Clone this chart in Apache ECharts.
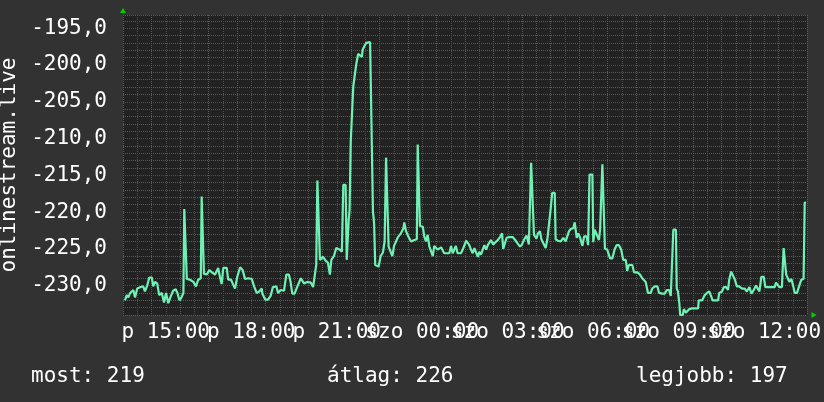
<!DOCTYPE html>
<html><head><meta charset="utf-8">
<script src="https://cdn.jsdelivr.net/npm/echarts@6/dist/echarts.min.js"></script>
<style>html,body{margin:0;padding:0;background:#323232;}#c{width:824px;height:402px;}</style>
</head><body><div id="c"></div>
<script>
// hours since Friday 00:00
const times = [
13.57,13.63,13.69,13.75,13.86,13.92,14.00,14.12,14.21,14.27,14.35,14.42,14.51,14.56,14.62,14.70,14.77,14.86,14.94,15.01,
15.09,15.17,15.26,15.35,15.41,15.48,15.54,15.62,15.65,15.71,15.74,15.85,15.97,16.06,16.14,16.23,16.26,16.32,16.34,16.44,
16.53,16.62,16.73,16.84,16.90,16.96,17.02,17.14,17.19,17.29,17.37,17.43,17.51,17.61,17.70,17.78,17.90,18.02,18.10,18.19,
18.28,18.37,18.39,18.49,18.59,18.68,18.76,18.88,18.94,19.03,19.15,19.23,19.32,19.38,19.44,19.52,19.62,19.74,19.85,19.97,
20.09,20.17,20.23,20.28,20.32,20.39,20.41,20.52,20.61,20.69,20.76,20.81,20.90,20.98,21.10,21.18,21.23,21.31,21.35,21.39,
21.42,21.45,21.49,21.56,21.58,21.64,21.68,21.72,21.75,21.82,21.88,21.91,21.97,22.03,22.09,22.17,22.24,22.27,22.31,22.35,
22.42,22.47,22.54,22.62,22.68,22.73,22.80,22.82,22.89,22.95,23.01,23.07,23.15,23.25,23.34,23.37,23.43,23.52,23.61,23.72,
23.81,23.84,23.90,23.92,24.02,24.07,24.13,24.19,24.25,24.31,24.37,24.42,24.48,24.54,24.60,24.66,24.72,24.77,24.95,25.01,
25.07,25.12,25.18,25.24,25.36,25.42,25.48,25.54,25.59,25.65,25.71,25.77,25.83,25.89,25.95,26.00,26.06,26.12,26.18,26.24,
26.30,26.35,26.41,26.49,26.56,26.65,26.73,26.80,26.84,26.91,26.96,27.05,27.17,27.26,27.35,27.43,27.50,27.58,27.66,27.74,
27.78,27.82,27.88,27.92,28.01,28.06,28.13,28.18,28.25,28.33,28.39,28.45,28.51,28.56,28.65,28.68,28.76,28.86,28.95,29.03,
29.09,29.15,29.21,29.30,29.35,29.42,29.47,29.54,29.62,29.68,29.77,29.82,29.87,29.97,30.00,30.05,30.12,30.20,30.24,30.28,
30.32,30.38,30.41,30.49,30.59,30.67,30.75,30.82,30.90,30.98,31.05,31.14,31.19,31.25,31.37,31.43,31.55,31.64,31.72,31.84,
31.92,32.02,32.07,32.16,32.25,32.31,32.42,32.51,32.58,32.66,32.72,32.77,32.81,32.90,32.93,32.97,33.02,33.05,33.14,33.18,
33.25,33.32,33.37,33.47,33.68,33.70,33.82,33.91,33.99,34.07,34.14,34.19,34.38,34.42,34.52,34.58,34.66,34.73,34.77,34.84,
34.90,34.96,35.04,35.12,35.22,35.31,35.39,35.48,35.55,35.63,35.71,35.78,35.83,35.90,35.98,36.04,36.37,36.41,36.48,36.53,
36.62,36.68,36.74,36.77,36.83,36.88,36.95,37.00,37.07,37.15,37.23,37.30,37.38,37.42,37.47
];
const values = [
-232.0,-231.3,-231.6,-231.0,-230.6,-231.6,-230.4,-230.2,-230.1,-230.8,-230.0,-228.9,-228.9,-230.1,-229.5,-229.7,-231.3,-231.0,-232.3,-231.0,
-232.4,-231.5,-230.7,-230.5,-231.0,-232.0,-231.7,-231.0,-219.6,-219.6,-229.1,-229.2,-229.5,-230.1,-229.2,-229.0,-217.9,-217.9,-228.4,-228.5,
-227.9,-228.2,-228.5,-227.6,-228.8,-229.8,-227.6,-227.6,-229.2,-229.2,-229.9,-230.4,-228.8,-227.5,-227.9,-229.1,-229.0,-229.1,-230.1,-231.0,
-230.8,-230.4,-231.1,-231.9,-231.9,-231.4,-230.2,-230.1,-231.0,-230.6,-230.7,-228.5,-228.5,-229.5,-231.1,-231.1,-230.1,-229.0,-229.7,-229.5,
-229.6,-230.2,-230.2,-227.2,-215.7,-215.7,-226.5,-226.1,-226.6,-226.9,-228.5,-226.5,-226.0,-224.9,-225.1,-225.4,-216.3,-216.3,-226.5,-226.5,
-221.0,-219.7,-210.5,-210.5,-202.9,-202.9,-200.0,-200.0,-198.5,-198.5,-198.9,-197.9,-197.9,-197.0,-196.8,-196.9,-197.0,-219.9,-221.5,-227.2,
-227.4,-227.4,-226.0,-225.5,-224.0,-212.6,-212.6,-224.7,-224.7,-226.0,-224.6,-224.7,-223.4,-222.9,-222.2,-221.4,-222.6,-223.4,-224.0,-223.8,
-223.7,-210.8,-210.8,-221.9,-222.0,-223.3,-224.0,-223.1,-224.7,-224.9,-226.0,-224.6,-224.6,-225.1,-225.1,-224.8,-224.8,-225.6,-225.6,-224.6,
-225.6,-225.6,-224.6,-225.6,-225.6,-225.1,-225.1,-223.9,-223.7,-224.5,-225.1,-225.6,-224.9,-224.7,-226.1,-225.4,-225.8,-225.6,-224.5,-225.1,
-224.5,-224.5,-223.8,-224.4,-224.2,-223.8,-223.4,-222.9,-225.0,-225.0,-223.5,-223.4,-223.4,-223.8,-224.3,-224.7,-224.4,-223.7,-223.2,-224.4,
-224.4,-213.3,-213.3,-223.1,-223.6,-222.9,-222.6,-223.7,-223.7,-224.9,-223.7,-223.5,-219.4,-217.4,-217.4,-223.7,-223.9,-224.0,-223.5,-224.0,
-224.0,-222.6,-222.3,-222.2,-221.4,-223.5,-222.9,-223.5,-224.6,-223.3,-223.3,-224.5,-214.9,-214.9,-224.1,-222.4,-222.4,-223.8,-222.4,-222.4,
-213.5,-213.5,-225.0,-225.1,-226.3,-226.3,-225.1,-224.5,-224.5,-225.1,-226.5,-226.5,-228.0,-227.2,-227.2,-228.2,-228.2,-228.5,-229.0,-229.5,
-231.0,-231.0,-230.4,-230.1,-230.1,-231.0,-231.1,-231.1,-230.6,-230.6,-231.4,-231.6,-222.4,-222.4,-230.4,-230.8,-232.4,-234.0,-234.0,-233.2,
-233.7,-233.7,-233.2,-233.1,-233.1,-232.0,-232.0,-231.3,-231.0,-230.8,-230.8,-232.0,-232.0,-231.0,-230.8,-230.2,-230.2,-230.6,-229.2,-228.1,
-228.1,-229.1,-230.1,-230.1,-230.4,-230.4,-230.8,-230.2,-231.1,-230.6,-230.0,-230.0,-230.8,-228.8,-228.8,-230.2,-230.2,-229.6,-229.6,-230.2,
-230.2,-224.9,-224.9,-228.5,-228.5,-229.5,-229.1,-229.8,-231.0,-231.0,-230.0,-229.2,-229.1,-218.7,-218.7
];
const xTickHours = [15, 18, 21, 24, 27, 30, 33, 36];
const xTickLabels = ['p 15:00', 'p 18:00', 'p 21:00', 'szo 00:00', 'szo 03:00', 'szo 06:00', 'szo 09:00', 'szo 12:00'];
const yAxisTitle = 'onlinestream.live';
const footerTexts = ['most: 219', 'átlag: 226', 'legjobb: 197'];

const FONT = 'DejaVu Sans Mono';
const data = times.map((t, i) => [t, values[i]]);
const GRID_MINOR = '#5a5a5a';
const GRID_MAJOR = '#7e3a3a';

const chart = echarts.init(document.getElementById('c'), null, {renderer: 'canvas'});
chart.setOption({
  animation: false,
  backgroundColor: '#323232',
  title: [
    {text: footerTexts[0], left: 31, top: 366},
    {text: footerTexts[1], left: 327, top: 366},
    {text: footerTexts[2], left: 636, top: 366}
  ].map(t => Object.assign(t, {padding: 0, textStyle: {color: '#ffffff', fontFamily: FONT, fontSize: 21, fontWeight: 'normal'}})),
  grid: {left: 123, top: 15, width: 684, height: 300, show: true, backgroundColor: '#222222', borderWidth: 0,
    containLabel: false, outerBoundsMode: 'none'},
  xAxis: {
    type: 'value', min: 13.5, max: 37.5, interval: 0.5,
    axisLine: {show: true, onZero: false, symbol: ['none', 'triangle'], symbolSize: [6, 5], symbolOffset: [0, 7],
      lineStyle: {color: '#00d000', width: 0}},
    axisTick: {show: false},
    splitLine: {show: true, lineStyle: {color: [GRID_MINOR, GRID_MAJOR], type: [1, 1], width: 1}},
    axisLabel: {
      color: '#ffffff', fontFamily: FONT, fontSize: 21, margin: 7, hideOverlap: false,
      showMinLabel: true, showMaxLabel: true,
      formatter: v => { const i = xTickHours.findIndex(h => Math.abs(h - v) < 1e-6); return i >= 0 ? xTickLabels[i] : ''; }
    }
  },
  yAxis: {
    type: 'value', min: -234, max: -193.2, interval: 1,
    name: yAxisTitle, nameLocation: 'middle', nameRotate: 90, nameGap: 95,
    nameTextStyle: {color: '#ffffff', fontFamily: FONT, fontSize: 21},
    axisLine: {show: true, onZero: false, symbol: ['none', 'triangle'], symbolSize: [6, 5], symbolOffset: [0, 4.5],
      lineStyle: {color: '#00d000', width: 0}},
    axisTick: {show: false},
    splitLine: {show: true, lineStyle: {color: [GRID_MINOR, GRID_MINOR, GRID_MINOR, GRID_MINOR, GRID_MAJOR], type: [1, 1], width: 1}},
    axisLabel: {
      color: '#ffffff', fontFamily: FONT, fontSize: 21, margin: 16, hideOverlap: false,
      formatter: v => { const r = Math.round(v); return (Math.abs(v - r) < 1e-6 && r % 5 === 0) ? v.toFixed(1).replace('.', ',') : ''; }
    }
  },
  series: [{
    type: 'line', data: data, showSymbol: false, symbol: 'none', clip: true,
    lineStyle: {color: '#6ff0b4', width: 2.2}
  }]
});
</script></body></html>
